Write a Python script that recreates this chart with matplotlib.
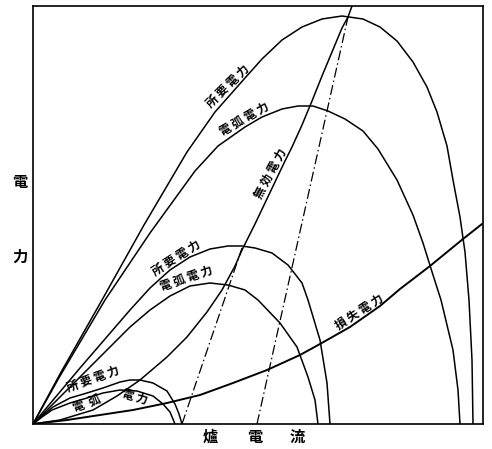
import matplotlib
matplotlib.use("Agg")
import matplotlib.pyplot as plt

plt.rcParams['font.family'] = ['Noto Sans CJK JP', 'DejaVu Sans']

# furnace current (x) against power (y), arbitrary units
# large voltage tap
big_supply_x = [0, 27, 69, 111, 154, 182, 212, 229, 249, 269, 289, 309, 330, 347,
                364, 380, 394, 404, 414, 420, 427, 432, 436, 439, 440]
big_supply_y = [0, 50, 124, 199, 272, 312, 346, 365, 384, 397, 405, 408, 405, 397,
                383, 362, 337, 312, 278, 244, 207, 172, 124, 64, 0]
big_arc_x = [0, 27, 72, 117, 162, 185, 212, 229, 249, 265, 280, 295, 312, 330,
             345, 364, 380, 390, 400, 408, 420, 425, 427]
big_arc_y = [0, 48, 124, 191, 253, 278, 297, 307, 315, 318, 318, 313, 305, 293,
             275, 244, 209, 181, 149, 124, 74, 34, 0]

# medium voltage tap
mid_supply_x = [0, 47, 97, 117, 137, 157, 177, 195, 209, 222, 239, 255, 269, 275,
                287, 294, 297]
mid_supply_y = [0, 56, 114, 136, 154, 167, 175, 178, 178, 176, 171, 159, 141, 124,
                84, 41, 0]
mid_arc_x = [0, 47, 97, 117, 137, 157, 177, 195, 212, 225, 247, 264, 275, 282, 285]
mid_arc_y = [0, 47, 97, 114, 128, 138, 141, 139, 134, 124, 101, 77, 47, 24, 0]

# small voltage tap
small_supply_x = [0, 9, 20, 37, 54, 70, 87, 97, 107, 120, 134, 142, 146, 149]
small_supply_y = [0, 8, 17, 26, 31, 36, 42, 44, 44, 41, 33, 20, 10, 0]
small_arc_x = [0, 9, 19, 37, 54, 70, 87, 104, 120, 130, 137, 142]
small_arc_y = [0, 7, 14, 21, 26, 31, 34, 33, 28, 20, 12, 0]

# losses and reactive power
loss_x = [0, 34, 67, 100, 134, 167, 200, 234, 267, 287, 317, 347, 367, 397, 430, 449]
loss_y = [0, 4, 9, 14, 21, 29, 41, 54, 69, 80, 97, 118, 135, 158, 185, 200]
reactive_x = [0, 27, 60, 84, 107, 134, 154, 174, 189, 202, 209, 222, 232, 242,
              252, 259, 269, 279, 289, 299, 309, 315, 319]
reactive_y = [0, 4, 14, 28, 44, 67, 87, 112, 134, 158, 174, 200, 221, 242,
              263, 277, 299, 323, 348, 372, 396, 407, 418]

# dash-dot guide lines
guide1_x = [149, 209]
guide1_y = [0, 176]
guide2_x = [224, 315]
guide2_y = [0, 407]

# curve captions: text, point on the curve, angle, side of the curve
captions = [
    ("所 要 電 力", 200, 333, 45, 'bottom'),
    ("電 弧 電 力", 215, 299, 30, 'bottom'),
    ("無 効 電 力", 243, 247, 62, 'bottom'),
    ("所 要 電 力", 147, 160, 33, 'bottom'),
    ("電 弧 電 力", 156, 139, 19, 'bottom'),
    ("所 要 電 力", 62, 39, 20, 'bottom'),
    ("電  弧", 52, 26, 20, 'top'),
    ("電 力", 104, 33, -16, 'top'),
    ("損 失 電 力", 330, 106, 33, 'bottom'),
]

fig = plt.figure(figsize=(4.92, 4.49), dpi=100)
ax = fig.add_axes([33 / 492, 25 / 449, 450 / 492, 418 / 449])

lw = 1.1
for xs, ys in [(big_supply_x, big_supply_y), (big_arc_x, big_arc_y),
               (mid_supply_x, mid_supply_y), (mid_arc_x, mid_arc_y),
               (small_supply_x, small_supply_y), (small_arc_x, small_arc_y),
               (reactive_x, reactive_y)]:
    ax.plot(xs, ys, color='black', lw=lw, solid_capstyle='round')
ax.plot(loss_x, loss_y, color='black', lw=1.4)

dashdot = (0, (8, 2.5, 1.2, 2.5))
ax.plot(guide1_x, guide1_y, color='black', lw=0.9, linestyle=dashdot)
ax.plot(guide2_x, guide2_y, color='black', lw=0.9, linestyle=dashdot)

for text, x, y, ang, side in captions:
    ax.text(x, y, text, rotation=ang, rotation_mode='anchor', ha='center',
            va=side, fontsize=8.5, fontweight='bold', color='black')

ax.set_xlim(0, 450)
ax.set_ylim(0, 418)
ax.set_xticks([])
ax.set_yticks([])
for side in ax.spines.values():
    side.set_linewidth(1.2)

# axis titles drawn character by character
fig.text(20 / 492, 1 - 182 / 449, "電", ha='center', va='center', fontsize=11, fontweight='bold')
fig.text(20 / 492, 1 - 257 / 449, "力", ha='center', va='center', fontsize=11, fontweight='bold')
for ch, px in [("爐", 210), ("電", 255), ("流", 297)]:
    fig.text(px / 492, 1 - 437 / 449, ch, ha='center', va='center', fontsize=11, fontweight='bold')

fig.savefig("out.png", dpi=100, facecolor='white')
